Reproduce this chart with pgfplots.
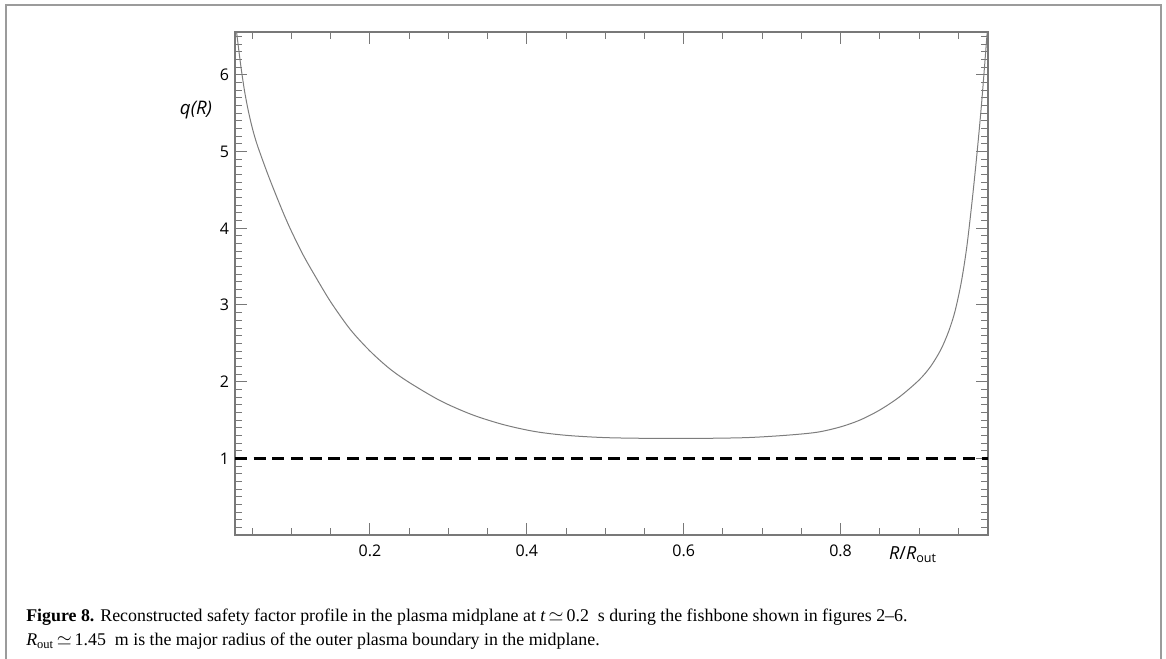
\documentclass[border=0pt]{standalone}
\usepackage{fontspec}
\setmainfont{Liberation Serif}
\setsansfont{Open Sans}
\usepackage{pgfplots}
\pgfplotsset{compat=1.18}
\definecolor{axgray}{RGB}{120,120,120}
\definecolor{curvegray}{RGB}{125,125,125}
\definecolor{framegray}{RGB}{155,155,155}
\begin{document}
\begin{tikzpicture}[x=0.75pt,y=0.75pt]
\path[use as bounding box] (0,0) rectangle (1166,659);
% outer frame
\draw[framegray, line width=1.5pt] (5.5,-10) -- (5.5,654) -- (1161,654) -- (1161,-10);
\begin{axis}[
  scale only axis,
  width=564.75pt, height=377.25pt,
  at={(176.25pt,93pt)}, anchor=south west,
  xmin=0.028, xmax=0.988,
  ymin=0, ymax=6.56,
  xtick={0.2,0.4,0.6,0.8},
  xticklabels={0.2,0.4,0.6,0.8},
  ytick={1,2,3,4,5,6},
  minor xtick={0.05,0.1,0.15,0.25,0.3,0.35,0.45,0.5,0.55,0.65,0.7,0.75,0.85,0.9,0.95},
  minor ytick={0.1,0.2,0.3,0.4,0.5,0.6,0.7,0.8,0.9,1.1,1.2,1.3,1.4,1.5,1.6,1.7,1.8,1.9,2.1,2.2,2.3,2.4,2.5,2.6,2.7,2.8,2.9,3.1,3.2,3.3,3.4,3.5,3.6,3.7,3.8,3.9,4.1,4.2,4.3,4.4,4.5,4.6,4.7,4.8,4.9,5.1,5.2,5.3,5.4,5.5,5.6,5.7,5.8,5.9,6.1,6.2,6.3,6.4,6.5},
  tick align=inside,
  tick pos=both,
  major tick length=9pt,
  minor tick length=5pt,
  axis line style={axgray, line width=0.8pt},
  every tick/.style={axgray, line width=0.7pt},
  /pgf/number format/assume math mode=true,
  tick label style={font=\sffamily\fontsize{12}{14}\selectfont, text=black},
  xticklabel style={yshift=-4pt},
  yticklabel style={xshift=-1pt},
  clip=true,
]
\addplot[curvegray, line width=0.75pt, smooth] coordinates {
(0.030,6.56) (0.035,6.15) (0.040,5.80) (0.045,5.53) (0.050,5.31)
(0.055,5.13) (0.060,4.98) (0.070,4.70) (0.080,4.44) (0.090,4.19)
(0.100,3.96) (0.115,3.65) (0.130,3.38) (0.150,3.04) (0.175,2.68)
(0.200,2.40) (0.225,2.17) (0.250,1.99) (0.290,1.75) (0.330,1.57)
(0.370,1.44) (0.410,1.35) (0.450,1.30) (0.500,1.27) (0.560,1.26)
(0.620,1.26) (0.680,1.27) (0.730,1.30) (0.770,1.34) (0.800,1.41)
(0.825,1.50) (0.850,1.63) (0.875,1.80) (0.900,2.02) (0.915,2.20)
(0.928,2.42) (0.938,2.66) (0.946,2.92) (0.954,3.30) (0.961,3.76)
(0.968,4.38) (0.974,4.98) (0.980,5.65) (0.987,6.56)
};
\addplot[black, line width=1.9pt, dash pattern=on 9pt off 5pt] coordinates {(0.028,1) (0.988,1)};
\end{axis}
\node[font=\sffamily\itshape\fontsize{14}{16}\selectfont] at (196,549) {q(R)};
\node[font=\sffamily\fontsize{13.5}{15}\selectfont] at (913,104) {\textit{R}/\textit{R}\textsubscript{out}};
\node[anchor=base west, inner sep=0pt, font=\fontsize{13.4}{15}\selectfont] at (26,37) {\textbf{Figure 8.} Reconstructed safety factor profile in the plasma midplane at \textit{t}\,$\simeq$\,0.2\enspace s during the fishbone shown in figures 2--6.};
\node[anchor=base west, inner sep=0pt, font=\fontsize{13.4}{15}\selectfont] at (26,13) {\textit{R}\textsubscript{out}\,$\simeq$\,1.45\enspace m is the major radius of the outer plasma boundary in the midplane.};
\end{tikzpicture}
\end{document}
